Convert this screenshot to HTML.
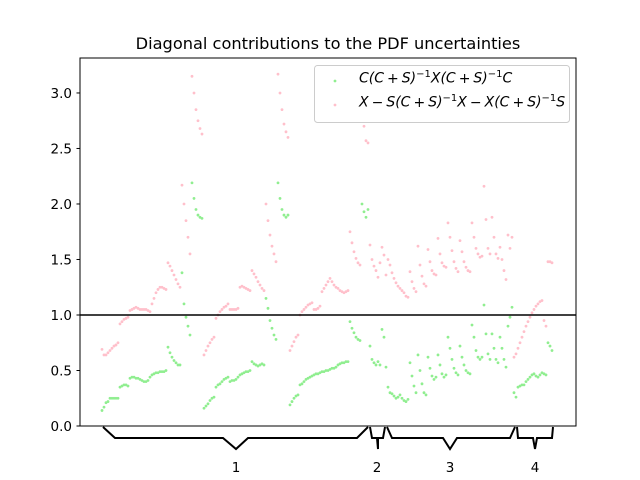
<!DOCTYPE html>
<html><head><meta charset="utf-8"><style>
body{margin:0;background:#fff;}
#wrap{position:relative;width:640px;height:480px;font-family:"DejaVu Sans","Liberation Sans",sans-serif;}
svg{position:absolute;left:0;top:0;}
.leg{position:absolute;font-family:"DejaVu Sans","Liberation Sans",sans-serif;font-size:14px;font-style:italic;white-space:nowrap;}
.leg sup{font-size:10px;font-style:normal;}
.leg .n{font-style:normal;padding:0 3px;}
</style></head><body>
<div id="wrap">
<svg id="svg" width="640" height="480">
<rect x="0" y="0" width="640" height="480" fill="#fff"/>
<text x="328" y="49" text-anchor="middle" font-size="16.2" font-family="DejaVu Sans, Liberation Sans, sans-serif">Diagonal contributions to the PDF uncertainties</text>
<g id="ticks"></g>
<g id="pts"></g>
<line x1="80" x2="576" y1="315" y2="315" stroke="#000" stroke-width="1.5"/>
<rect x="80" y="58" width="496" height="368" fill="none" stroke="#000" stroke-width="1"/>
<g fill="none" stroke="#000" stroke-width="2">
<polyline points="103,427 115,438 223,438 236,449 248,438 357,438 368,427"/>
<polyline points="370,427 372,438 377,438 378,449 378,438 383,438 385,427"/>
<polyline points="387,427 392,438 443,438 450,449 457,438 510,438 515,427"/>
<polyline points="517,427 518,438 533,438 535,449 537,438 552,438 553,427"/>
</g>
<g font-size="13.5" font-family="DejaVu Sans, Liberation Sans, sans-serif" text-anchor="middle">
<text x="236" y="472">1</text>
<text x="377" y="472">2</text>
<text x="450" y="472">3</text>
<text x="535" y="472">4</text>
</g>
<rect x="314.5" y="65.5" width="255" height="57" rx="3" fill="#fff" fill-opacity="0.8" stroke="#ccc"/>
<circle cx="335" cy="81" r="1.4" fill="#90ee90"/>
<circle cx="335" cy="105" r="1.4" fill="#ffc0cb"/>
</svg>
<div class="leg" style="left:359px;top:69px;">C(C<span class="n">+</span>S)<sup>−1</sup>X(C<span class="n">+</span>S)<sup>−1</sup>C</div>
<div class="leg" style="left:359px;top:93px;">X<span class="n">−</span>S(C<span class="n">+</span>S)<sup>−1</sup>X<span class="n">−</span>X(C<span class="n">+</span>S)<sup>−1</sup>S</div>
</div>
<script>
const yTicks=[0.0,0.5,1.0,1.5,2.0,2.5,3.0];
const yTickLabels=["0.0","0.5","1.0","1.5","2.0","2.5","3.0"];
const greenValues=[0.14,0.17,0.21,0.22,0.25,0.25,0.25,0.25,0.25,0.35,0.36,0.37,0.37,0.36,0.43,0.44,0.44,0.43,0.43,0.42,0.41,0.40,0.40,0.41,0.44,0.46,0.47,0.48,0.48,0.49,0.49,0.49,0.50,0.71,0.66,0.62,0.59,0.57,0.55,0.55,1.38,1.10,0.98,0.90,0.82,2.19,2.05,1.95,1.90,1.88,1.87,
0.16,0.18,0.20,0.23,0.25,0.26,0.35,0.37,0.38,0.40,0.42,0.43,0.44,0.40,0.41,0.41,0.42,0.44,0.46,0.47,0.48,0.49,0.49,0.50,0.58,0.56,0.55,0.54,0.55,0.56,0.55,1.15,1.06,0.95,0.88,0.82,0.78,2.19,2.05,1.95,1.90,1.88,1.90,
0.19,0.22,0.25,0.27,0.28,0.37,0.38,0.40,0.42,0.43,0.44,0.45,0.46,0.47,0.47,0.48,0.49,0.49,0.50,0.50,0.51,0.52,0.52,0.53,0.55,0.56,0.57,0.57,0.58,0.58,0.94,0.88,0.84,0.80,0.78,0.77,2.0,1.93,1.88,1.95,
0.72,0.60,0.57,0.55,0.58,0.55,0.87,0.80,0.53,
0.35,0.30,0.29,0.27,0.25,0.26,0.28,0.25,0.23,0.22,0.24,0.57,0.45,0.36,0.30,0.64,0.50,0.38,0.30,0.28,0.62,0.52,0.45,0.42,0.44,0.64,0.55,0.47,0.44,0.46,0.80,0.70,0.60,0.52,0.48,0.46,0.72,0.62,0.55,0.50,0.48,0.47,0.91,0.80,0.68,0.62,0.60,0.62,1.09,0.83,0.65,0.60,0.83,0.70,0.60,0.57,0.80,0.70,0.60,0.53,0.90,0.98,
1.07,0.30,0.26,0.35,0.36,0.37,0.37,0.40,0.42,0.44,0.46,0.47,0.45,0.44,0.46,0.48,0.47,0.46,0.75,0.72,0.68];
const pinkValues=[0.69,0.64,0.64,0.66,0.68,0.70,0.72,0.73,0.75,0.92,0.94,0.96,0.97,0.98,1.04,1.05,1.06,1.07,1.06,1.05,1.05,1.05,1.05,1.04,1.03,1.10,1.15,1.20,1.23,1.25,1.25,1.24,1.23,1.47,1.44,1.40,1.36,1.32,1.28,1.25,2.17,2.00,1.85,1.70,1.55,3.15,3.00,2.85,2.75,2.68,2.63,
0.64,0.68,0.72,0.75,0.78,0.80,0.97,1.00,1.03,1.05,1.07,1.08,1.10,1.05,1.05,1.05,1.05,1.06,1.25,1.26,1.25,1.24,1.23,1.22,1.40,1.37,1.34,1.30,1.27,1.24,1.22,2.00,1.85,1.72,1.62,1.55,1.48,3.17,3.00,2.85,2.72,2.65,2.60,
0.68,0.72,0.76,0.80,0.82,1.00,1.03,1.05,1.07,1.09,1.10,1.11,1.05,1.05,1.06,1.08,1.21,1.24,1.27,1.30,1.33,1.30,1.27,1.25,1.24,1.22,1.21,1.20,1.21,1.22,1.75,1.65,1.57,1.51,1.47,1.45,2.95,2.70,2.57,2.55,
1.63,1.50,1.44,1.40,1.34,1.47,1.61,1.54,1.36,
1.50,1.45,1.38,1.33,1.29,1.26,1.24,1.22,1.20,1.17,1.16,1.39,1.30,1.24,1.21,1.62,1.45,1.35,1.28,1.26,1.59,1.48,1.40,1.37,1.36,1.69,1.55,1.47,1.44,1.43,1.83,1.70,1.58,1.48,1.42,1.39,1.67,1.57,1.48,1.43,1.40,1.39,1.83,1.70,1.60,1.55,1.52,1.53,2.16,1.86,1.60,1.55,1.88,1.70,1.55,1.51,1.61,1.50,1.40,1.32,1.72,1.60,
1.70,0.62,0.65,0.70,0.75,0.80,0.85,0.90,0.94,0.98,1.02,1.05,1.08,1.10,1.12,1.13,0.95,0.90,1.48,1.48,1.47];
const NS="http://www.w3.org/2000/svg";
const xMin=-11,xMax=237,pxL=80,pxR=576;
function xScale(i){return pxL+(i-xMin)/(xMax-xMin)*(pxR-pxL);}
const yMin=0,yMax=3.315,pyB=426,pyT=58;
function yScale(v){return pyB-(v-yMin)/(yMax-yMin)*(pyB-pyT);}
const tg=document.getElementById('ticks');
yTicks.forEach((t,k)=>{
  const y=yScale(t);
  const l=document.createElementNS(NS,'line');
  l.setAttribute('x1',76.5);l.setAttribute('x2',80);l.setAttribute('y1',y);l.setAttribute('y2',y);l.setAttribute('stroke','#000');
  
  
  tg.appendChild(l);
  const tx=document.createElementNS(NS,'text');
  tx.setAttribute('x',72);tx.setAttribute('y',y+5);tx.setAttribute('text-anchor','end');
  tx.setAttribute('font-size','13.5');tx.setAttribute('font-family','DejaVu Sans, Liberation Sans, sans-serif');
  tx.textContent=yTickLabels[k];
  
  
  tg.appendChild(tx);
});
const pg=document.getElementById('pts');
function draw(vals,color,name){
  vals.forEach((v,i)=>{
    const c=document.createElementNS(NS,'circle');
    c.setAttribute('cx',xScale(i));c.setAttribute('cy',yScale(v));c.setAttribute('r',1.4);c.setAttribute('fill',color);
    
    
    pg.appendChild(c);
  });
}
draw(greenValues,'#90ee90','green-point');
draw(pinkValues,'#ffc0cb','pink-point');
</script>
</body></html>
